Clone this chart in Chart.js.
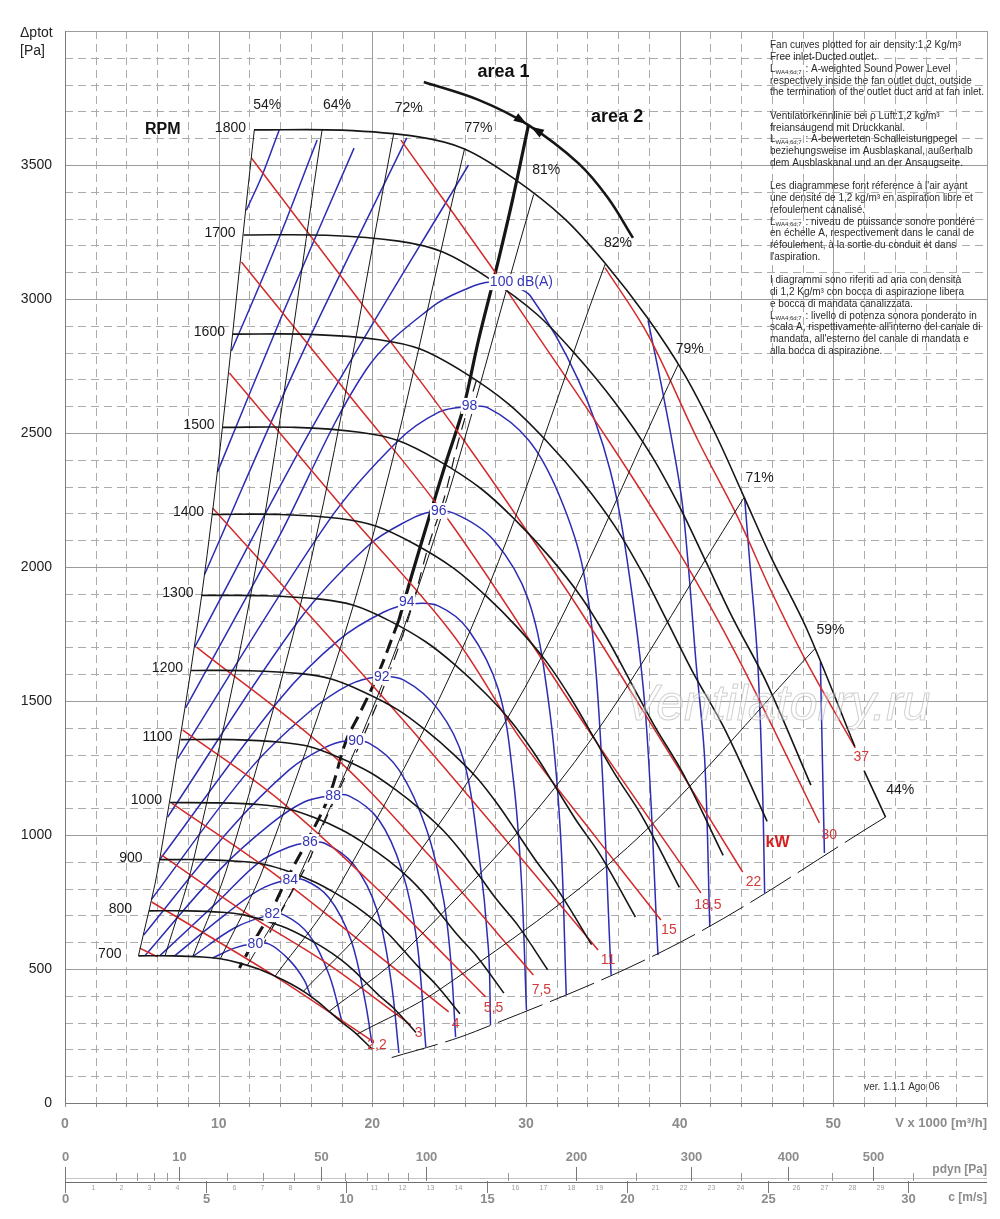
<!DOCTYPE html>
<html>
<head>
<meta charset="utf-8">
<title>Fan curves</title>
<script src="https://cdn.jsdelivr.net/npm/chart.js@4.4.0/dist/chart.umd.min.js"></script>
<style>
html, body { margin: 0; padding: 0; background: #fff; }
canvas { display: block; }
</style>
</head>
<body>
<canvas id="fan" width="1000" height="1219"></canvas>
<script>
// flow V in 1000 m3/h, total pressure in Pa
const rpmValues = [1800, 1700, 1600, 1500, 1400, 1300, 1200, 1100, 1000, 900, 800, 700]

const rpm1800 = [[12.3,3631],[18,3630],[23,3605],[26,3560],[29.2,3450],[32.5,3300],[35.2,3130],[37.9,2930],[40.3,2720],[42.3,2500],[44.2,2260],[46,2030],[48.3,1765],[51.4,1330]]
const rpm1700 = [[11.62,3239],[17.0,3238],[21.72,3216],[24.55,3176],[27.58,3077],[30.69,2944],[33.24,2792],[35.79,2614],[38.06,2426],[39.95,2230],[41.74,2016],[43.44,1811],[45.61,1574],[48.54,1186]]
const rpm1600 = [[10.93,2869],[16.0,2868],[20.44,2848],[23.11,2813],[25.96,2726],[28.89,2607],[31.29,2473],[33.69,2315],[35.82,2149],[37.6,1975],[39.29,1786],[40.89,1604],[42.93,1395],[45.69,1051]]
const rpm1500 = [[10.25,2521],[15.0,2521],[19.17,2503],[21.67,2472],[24.33,2396],[27.08,2292],[29.33,2174],[31.58,2035],[33.58,1889],[35.25,1736],[36.83,1569],[38.33,1410],[40.25,1226],[42.83,924]]
const rpm1400 = [[9.57,2196],[14.0,2196],[17.89,2181],[20.22,2153],[22.71,2087],[25.28,1996],[27.38,1893],[29.48,1772],[31.35,1645],[32.9,1512],[34.38,1367],[35.78,1228],[37.57,1068],[39.98,805]]
const rpm1300 = [[8.88,1894],[13.0,1893],[16.61,1880],[18.78,1857],[21.09,1800],[23.47,1721],[25.42,1633],[27.37,1528],[29.1,1419],[30.55,1304],[31.92,1179],[33.22,1059],[34.88,921],[37.12,694]]
const rpm1200 = [[8.2,1614],[12.0,1613],[15.33,1602],[17.33,1582],[19.47,1533],[21.67,1467],[23.47,1391],[25.27,1302],[26.87,1209],[28.2,1111],[29.47,1004],[30.67,902],[32.2,784],[34.27,591]]
const rpm1100 = [[7.52,1356],[11.0,1356],[14.06,1346],[15.89,1330],[17.84,1289],[19.86,1233],[21.51,1169],[23.16,1094],[24.63,1016],[25.85,934],[27.01,844],[28.11,758],[29.52,659],[31.41,497]]
const rpm1000 = [[6.83,1121],[10.0,1120],[12.78,1113],[14.44,1099],[16.22,1065],[18.06,1018],[19.56,966],[21.06,904],[22.39,839],[23.5,772],[24.56,697],[25.56,626],[26.83,545],[28.56,410]]
const rpm900 = [[6.15,908],[9.0,908],[11.5,901],[13.0,890],[14.6,863],[16.25,825],[17.6,783],[18.95,733],[20.15,680],[21.15,625],[22.1,565],[23.0,508],[24.15,441],[25.7,333]]
const rpm800 = [[5.47,717],[8.0,717],[10.22,712],[11.56,703],[12.98,681],[14.44,652],[15.64,618],[16.84,579],[17.91,537],[18.8,494],[19.64,446],[20.44,401],[21.47,349],[22.84,263]]
const rpm700 = [[4.78,549],[7.0,549],[8.94,545],[10.11,538],[11.36,522],[12.64,499],[13.69,473],[14.74,443],[15.67,411],[16.45,378],[17.19,342],[17.89,307],[18.78,267],[19.99,201]]
const rpmCurves = [rpm1800, rpm1700, rpm1600, rpm1500, rpm1400, rpm1300, rpm1200, rpm1100, rpm1000, rpm900, rpm800, rpm700]
const bracket44 = [[52.0,1240],[53.4,1067]]

// efficiency lines
const effLabels = ['54%','64%','72%','77%','81%','82%','79%','71%','59%','44%']
const eff54 = [[12.32,3631],[9.24,2042],[6.16,908],[4.78,549]]
const eff64 = [[16.73,3631],[12.55,2042],[8.37,908],[6.51,549]]
const eff72 = [[21.4,3620],[16.05,2036],[10.7,905],[8.32,547]]
const eff77 = [[26.0,3560],[19.5,2003],[13.0,890],[10.11,538]]
const eff81 = [[30.5,3390],[22.88,1907],[15.25,848],[11.86,513]]
const eff82 = [[35.15,3130],[26.36,1761],[17.58,783],[13.67,473]]
const eff79 = [[39.9,2755],[29.93,1550],[19.95,689],[15.52,417]]
const eff71 = [[44.2,2260],[33.15,1271],[22.1,565],[17.19,342]]
const eff59 = [[48.8,1695],[36.6,953],[24.4,424],[18.98,256]]
const eff44 = [[53.4,1067],[40.05,600],[26.7,267],[20.77,161]]
const effLines = [eff54, eff64, eff72, eff77, eff81, eff82, eff79, eff71, eff59, eff44]
const effLabelPos = [[13.16,3724],[17.70,3724],[22.37,3713],[26.91,3638],[31.32,3481],[35.99,3209],[40.66,2813],[45.20,2332],[49.81,1765],[54.35,1168]]

// absorbed power, kW
const kwLabels = ['2,2','3','4','5,5','7,5','11','15','18,5','22','30','37']
const kw2 = [[5.64,750],[13.75,470],[19.91,235]]
const kw3 = [[6.29,925],[12.0,701],[17.19,515],[22.50,291]]
const kw4 = [[6.94,1119],[13.29,869],[19.13,608],[24.97,340]]
const kw5 = [[7.65,1392],[13.94,1131],[21.08,757],[27.37,396]]
const kw7 = [[8.56,1701],[17.19,1310],[23.67,925],[30.48,478]]
const kw11 = [[9.60,2220],[16.54,1780],[23.02,1362],[29.51,925],[34.69,571]]
const kw15 = [[10.70,2724],[17.83,2239],[25.16,1754],[29.70,1354],[34.69,981],[38.78,683]]
const kw18 = [[11.48,3138],[18.48,2642],[25.10,2164],[34.50,1354],[41.38,784]]
const kw22 = [[12.13,3526],[19.13,2996],[25.94,2474],[32.94,1888],[37.29,1493],[44.10,862]]
const kw30 = [[21.86,3593],[27.89,3108],[29.05,3007],[35.34,2474],[39.88,2063],[43.77,1664],[49.09,1045]]
const kw37 = [[35.15,3116],[37.94,2866],[41.18,2474],[43.77,2187],[46.04,1900],[48.31,1640],[51.43,1325]]
const kwStub = [[4.86,578],[6.03,545]]
const kwLines = [kw2, kw3, kw4, kw5, kw7, kw11, kw15, kw18, kw22, kw30, kw37, kwStub]
const kwLabelPos = [[20.30,216],[23.02,261],[25.42,295],[27.89,354],[31.0,422],[35.34,534],[39.30,646],[41.83,739],[44.81,825],[49.74,1000],[51.82,1291]]

// sound power level, dB(A)
const dbLabels = ['80','82','84','86','88','90','92','94','96','98','100 dB(A)']
const db80 = [[9.60,541],[11.02,578],[12.19,593],[13.29,593],[14.59,534],[15.56,459],[16.0,396]]
const db82 = [[8.30,546],[11.02,653],[13.29,701],[14.27,701],[15.89,627],[17.19,478],[18.03,302]]
const db84 = [[7.13,549],[10.38,701],[12.65,795],[14.40,832],[15.56,832],[17.19,765],[18.61,608],[19.52,384],[19.97,224]]
const db86 = [[6.16,549],[10.05,757],[12.65,899],[14.59,955],[15.69,970],[16.86,970],[18.81,888],[20.30,720],[21.21,459],[21.73,187]]
const db88 = [[5.19,549],[10.05,869],[13.29,1037],[15.56,1123],[17.19,1146],[18.48,1146],[20.43,1056],[21.92,869],[22.89,608],[23.48,209]]
const db90 = [[5.12,627],[10.70,1019],[14.59,1243],[16.86,1325],[18.29,1351],[19.78,1343],[21.73,1243],[23.54,1019],[24.64,757],[25.10,534],[25.42,246]]
const db92 = [[5.64,761],[12.00,1243],[15.89,1459],[18.48,1560],[20.30,1590],[22.05,1578],[24.32,1466],[25.94,1280],[26.91,944],[27.56,571],[27.69,291]]
const db94 = [[6.16,908],[13.94,1504],[17.83,1728],[20.75,1832],[22.57,1862],[24.32,1854],[26.26,1765],[28.21,1541],[29.18,1205],[29.70,832],[30.03,347]]
const db96 = [[6.68,1067],[15.24,1802],[19.78,2082],[22.37,2175],[23.80,2205],[25.29,2201],[27.89,2101],[30.16,1877],[31.45,1504],[32.23,1019],[32.62,403]]
const db98 = [[7.33,1285],[17.19,2175],[21.73,2474],[24.32,2578],[25.94,2597],[27.56,2593],[30.16,2474],[32.10,2276],[33.72,1989],[34.69,1504],[35.54,478]]
const db100 = [[7.85,1474],[13.68,2086],[19.58,2735],[23.87,2970],[26.26,3041],[27.69,3063],[29.0,3050],[30.29,3011],[33.40,2698],[35.47,2362],[36.77,1951],[37.81,1429],[38.59,552]]
const dbUpper1 = [[11.80,3331],[12.84,3463],[13.94,3631]]
const dbUpper2 = [[10.83,2806],[13.62,3183],[16.41,3593]]
const dbUpper3 = [[9.92,2354],[14.27,2959],[18.81,3563]]
const dbUpper4 = [[9.08,1972],[15.24,2772],[22.24,3601]]
const dbUpper5 = [[8.43,1700],[16.54,2567],[26.26,3500]]
const dbRight1 = [[37.94,2920],[38.91,2649],[40.08,2276],[40.53,2026],[41.05,1653],[41.63,1280],[41.96,657]]
const dbRight2 = [[44.23,2256],[44.55,2026],[45.07,1653],[45.40,1157],[45.53,784]]
const dbRight3 = [[49.16,1645],[49.29,1280],[49.42,933]]
const dbLines = [db80, db82, db84, db86, db88, db90, db92, db94, db96, db98, db100,
  dbUpper1, dbUpper2, dbUpper3, dbUpper4, dbUpper5, dbRight1, dbRight2, dbRight3]
const dbLabelPos = [[12.39,593],[13.49,705],[14.66,832],[15.95,974],[17.45,1146],[18.94,1351],[20.62,1590],[22.24,1869],[24.32,2209],[26.33,2601],[29.70,3063]]

// area 1 / area 2 border
const areaSolid = [[30.16,3649],[29.12,3369],[28.02,3101],[26.91,2847],[25.94,2597],[24.84,2399],[23.80,2205],[22.57,1970],[21.73,1802]]
const areaDashed = [[21.73,1802],[20.30,1590],[19.13,1448],[18.29,1351],[17.19,1146],[15.69,970],[14.40,832],[13.29,701],[12.19,593],[11.35,504]]
const areaThin = [[26.78,2698],[25.62,2474],[24.64,2250],[23.67,2082],[22.37,1813],[20.62,1534],[18.94,1306],[16.86,1045],[15.89,907],[14.59,769],[13.42,646],[12.52,552]]
const areaArc = [[23.35,3810],[26.91,3743],[30.16,3649],[33.40,3507],[35.34,3377],[36.96,3228]]

// secondary scales under the flow axis
const pdynMajor = [0, 10, 50, 100, 200, 300, 400, 500]
const pdynMinor = [2, 4, 6, 8, 20, 30, 40, 60, 70, 80, 90, 150, 250, 350, 450, 550]
const cMajor = [0, 5, 10, 15, 20, 25, 30]
const cMinor = [1,2,3,4,6,7,8,9,11,12,13,14,16,17,18,19,21,22,23,24,26,27,28,29]
const pdynToFlow = 2.352   // 1000 m3/h per sqrt(Pa)
const cToFlow = 1.829      // 1000 m3/h per m/s

const noteLines = [
  'Fan curves plotted for air density:1,2 Kg/m³',
  'Free inlet-Ducted outlet.',
  'L| : A-weighted Sound Power Level',
  'respectively inside the fan outlet duct, outside',
  'the termination of the outlet duct and at fan inlet.',
  '',
  'Ventilatorkennlinie bei ρ Luft:1,2 kg/m³',
  'freiansaugend mit Druckkanal.',
  'L| : A-bewerteten Schalleistungpegel',
  'beziehungsweise im Ausblaskanal, außerhalb',
  'dem Ausblaskanal und an der Ansaugseite.',
  '',
  "Les diagrammese font réference à l'air ayant",
  'une densité de 1,2 kg/m³ en aspiration libre et',
  'refoulement canalisé.',
  'L| : niveau de puissance sonore pondéré',
  'en échelle A, respectivement dans le canal de',
  'réfoulement, à la sortie du conduit et dans',
  "l'aspiration.",
  '',
  'I diagrammi sono riferiti ad aria con densità',
  'di 1,2 Kg/m³ con bocca di aspirazione libera',
  'e bocca di mandata canalizzata.',
  'L| : livello di potenza sonora ponderato in',
  "scala A, rispettivamente all'interno del canale di",
  "mandata, all'esterno del canale di mandata e",
  'alla bocca di aspirazione.'
]

const FONT = '"Liberation Sans", Arial, Helvetica, sans-serif'
Chart.defaults.font.family = FONT

const BLACK = '#161616'
const BLUE = '#2c2cb4'
const RED = '#d42a2a'

function curve(pts, color, width, dash) {
  return {
    data: pts.map(([x, y]) => ({x: x, y: y})),
    showLine: true,
    borderColor: color,
    borderWidth: width,
    borderDash: dash || [],
    pointRadius: 0,
    pointHoverRadius: 0,
    tension: 0.35,
    fill: false
  }
}

const datasets = []
effLines.forEach(l => datasets.push(curve(l, BLACK, 1)))
rpmCurves.forEach(l => datasets.push(curve(l, BLACK, 1.6)))
datasets.push(curve(bracket44, BLACK, 1.6))
kwLines.forEach(l => datasets.push(curve(l, RED, 1.5)))
dbLines.forEach(l => datasets.push(curve(l, BLUE, 1.5)))
datasets.push(curve(areaThin, BLACK, 1.2, [12, 8]))
datasets.push(curve(areaSolid, BLACK, 3.2))
datasets.push(curve(areaDashed, BLACK, 3, [14, 7]))
datasets.push(curve(areaArc, BLACK, 2.6))
// bottom 44% line drawn broken like the original
datasets[9].borderDash = [48, 8]

// dashed paper grid + axis lines
const paperGrid = {
  id: 'paperGrid',
  beforeDatasetsDraw(chart) {
    const {ctx, chartArea: a, scales: {x, y}} = chart
    ctx.save()
    ctx.lineWidth = 1
    for (let v = 0; v <= 60; v += 2) {
      const px = Math.round(x.getPixelForValue(v)) + 0.5
      const major = v % 10 === 0
      ctx.strokeStyle = major ? '#9c9c9c' : '#ababab'
      ctx.setLineDash(major ? [] : [8, 5])
      ctx.beginPath(); ctx.moveTo(px, a.top); ctx.lineTo(px, a.bottom); ctx.stroke()
      ctx.setLineDash([])
      ctx.strokeStyle = '#8a8a8a'
      ctx.beginPath(); ctx.moveTo(px, a.bottom); ctx.lineTo(px, a.bottom + 4); ctx.stroke()
    }
    for (let p = 0; p <= 4000; p += 100) {
      const py = Math.round(y.getPixelForValue(p)) + 0.5
      const major = p % 500 === 0
      ctx.strokeStyle = major ? '#9c9c9c' : '#ababab'
      ctx.setLineDash(major ? [] : [8, 5])
      ctx.beginPath(); ctx.moveTo(a.left, py); ctx.lineTo(a.right, py); ctx.stroke()
    }
    ctx.setLineDash([])
    ctx.strokeStyle = '#7a7a7a'
    ctx.beginPath()
    ctx.moveTo(a.left + 0.5, a.top); ctx.lineTo(a.left + 0.5, a.bottom + 0.5); ctx.lineTo(a.right, a.bottom + 0.5)
    ctx.stroke()
    ctx.restore()
  }
}

function label(ctx, s, x, y, font, color, align, bg) {
  ctx.font = font
  ctx.textAlign = align || 'center'
  ctx.textBaseline = 'middle'
  if (bg) {
    const w = ctx.measureText(s).width
    const x0 = ctx.textAlign === 'center' ? x - w / 2 : (ctx.textAlign === 'right' ? x - w : x)
    ctx.fillStyle = '#fff'
    ctx.fillRect(x0 - 1, y - 8, w + 2, 16)
  }
  ctx.fillStyle = color
  ctx.fillText(s, x, y)
}

const annotations = {
  id: 'annotations',
  afterDatasetsDraw(chart) {
    const {ctx, chartArea: a, scales: {x, y}} = chart
    const P = pt => [x.getPixelForValue(pt[0]), y.getPixelForValue(pt[1])]
    ctx.save()

    // watermark
    const wm = P([46.37, 1481])
    ctx.font = 'italic 50px ' + FONT
    ctx.textAlign = 'center'; ctx.textBaseline = 'middle'
    ctx.fillStyle = 'rgba(255,255,255,0.35)'
    ctx.fillText('Ventilatorry.ru', wm[0], wm[1])
    ctx.strokeStyle = 'rgba(170,170,170,0.55)'
    ctx.lineWidth = 1
    ctx.strokeText('Ventilatorry.ru', wm[0], wm[1])

    // rpm
    rpmCurves.forEach((c, i) => {
      const [px, py] = P(c[0])
      const s = String(rpmValues[i])
      label(ctx, s, px - (s.length > 3 ? 8 : 17), py - 2, '14px ' + FONT, '#1a1a1a', 'right')
    })
    const rp = P([6.36, 3631])
    label(ctx, 'RPM', rp[0], rp[1], 'bold 16px ' + FONT, '#111')

    effLabelPos.forEach((pt, i) => {
      const [px, py] = P(pt)
      label(ctx, effLabels[i], px, py, '14px ' + FONT, '#1a1a1a')
    })
    dbLabelPos.forEach((pt, i) => {
      const [px, py] = P(pt)
      label(ctx, dbLabels[i], px, py, '14px ' + FONT, '#3535b8', 'center', true)
    })
    kwLabelPos.forEach((pt, i) => {
      const [px, py] = P(pt)
      label(ctx, kwLabels[i], px, py, '14px ' + FONT, '#d33a3a')
    })
    const kw = P([46.37, 970])
    label(ctx, 'kW', kw[0], kw[1], 'bold 16px ' + FONT, '#d42020')

    const a1 = P([28.53, 3847]), a2 = P([35.93, 3679])
    label(ctx, 'area 1', a1[0], a1[1], 'bold 18px ' + FONT, '#111')
    label(ctx, 'area 2', a2[0], a2[1], 'bold 18px ' + FONT, '#111')

    // arrow heads where the two areas meet
    const [ax, ay] = P(areaArc[2])
    const [bx, by] = P(areaArc[1])
    const [cx, cy] = P(areaArc[3])
    const ang = Math.atan2(cy - by, cx - bx)
    const head = (tx, ty, t) => {
      ctx.beginPath()
      ctx.moveTo(tx, ty)
      ctx.lineTo(tx - 13 * Math.cos(t) + 4.5 * Math.sin(t), ty - 13 * Math.sin(t) - 4.5 * Math.cos(t))
      ctx.lineTo(tx - 13 * Math.cos(t) - 4.5 * Math.sin(t), ty - 13 * Math.sin(t) + 4.5 * Math.cos(t))
      ctx.closePath(); ctx.fill()
    }
    ctx.fillStyle = '#111'
    head(ax - 2 * Math.cos(ang), ay - 2 * Math.sin(ang), ang)
    head(ax + 3 * Math.cos(ang), ay + 3 * Math.sin(ang), ang + Math.PI)

    const ver = P([54.47, 60])
    label(ctx, 'ver. 1.1.1 Ago 06', ver[0], ver[1], '10px ' + FONT, '#333')

    // notes block
    ctx.textAlign = 'left'; ctx.textBaseline = 'middle'; ctx.fillStyle = '#2a2a2a'
    const nx = a.left + 705
    noteLines.forEach((s, i) => {
      const ny = 45.5 + i * 11.75
      if (s.startsWith('L|')) {
        ctx.font = '10px ' + FONT
        ctx.fillText('L', nx, ny)
        let w = ctx.measureText('L').width
        ctx.font = '6px ' + FONT
        ctx.fillText('WA4;6d;7', nx + w, ny + 3)
        w += ctx.measureText('WA4;6d;7').width
        ctx.font = '10px ' + FONT
        ctx.fillText(s.slice(2), nx + w + 1, ny)
      } else if (s) {
        ctx.font = '10px ' + FONT
        ctx.fillText(s, nx, ny)
      }
    })
    ctx.restore()
  },
  afterDraw(chart) {
    const {ctx, chartArea: a, scales: {x}} = chart
    ctx.save()
    label(ctx, 'Δptot', 20, 33, '14px ' + FONT, '#222', 'left')
    label(ctx, '[Pa]', 20, 51, '14px ' + FONT, '#222', 'left')
    label(ctx, 'V x 1000 [m³/h]', a.right, a.bottom + 20, 'bold 13px ' + FONT, '#8c8c8c', 'right')

    const base = a.bottom + 78
    ctx.strokeStyle = '#c4c4c4'; ctx.lineWidth = 1
    ctx.beginPath(); ctx.moveTo(a.left, base - 2.5); ctx.lineTo(a.right, base - 2.5); ctx.stroke()
    ctx.strokeStyle = '#6e6e6e'
    ctx.beginPath(); ctx.moveTo(a.left, base + 1.5); ctx.lineTo(a.right, base + 1.5); ctx.stroke()

    ctx.strokeStyle = '#777'
    pdynMajor.forEach(p => {
      const px = Math.round(x.getPixelForValue(Math.sqrt(p) * pdynToFlow)) + 0.5
      ctx.beginPath(); ctx.moveTo(px, base - 14); ctx.lineTo(px, base); ctx.stroke()
      label(ctx, String(p), px, a.bottom + 54, 'bold 13px ' + FONT, '#8c8c8c')
    })
    pdynMinor.forEach(p => {
      const px = Math.round(x.getPixelForValue(Math.sqrt(p) * pdynToFlow)) + 0.5
      ctx.strokeStyle = '#999'
      ctx.beginPath(); ctx.moveTo(px, base - 8); ctx.lineTo(px, base); ctx.stroke()
    })
    cMajor.forEach(c => {
      const px = Math.round(x.getPixelForValue(c * cToFlow)) + 0.5
      ctx.strokeStyle = '#777'
      ctx.beginPath(); ctx.moveTo(px, base); ctx.lineTo(px, base + 12); ctx.stroke()
      label(ctx, String(c), px, a.bottom + 96, 'bold 13px ' + FONT, '#8c8c8c')
    })
    cMinor.forEach(c => {
      const px = Math.round(x.getPixelForValue(c * cToFlow)) + 0.5
      label(ctx, String(c), px, base + 7, '7px ' + FONT, '#a0a0a0')
    })
    label(ctx, 'pdyn [Pa]', a.right, a.bottom + 67, 'bold 12px ' + FONT, '#8c8c8c', 'right')
    label(ctx, 'c [m/s]', a.right, a.bottom + 95, 'bold 12px ' + FONT, '#8c8c8c', 'right')
    ctx.restore()
  }
}

new Chart(document.getElementById('fan'), {
  type: 'scatter',
  data: { datasets: datasets },
  options: {
    responsive: false,
    animation: false,
    events: [],
    layout: { padding: { left: 0, right: 10, top: 31, bottom: 0 } },
    plugins: { legend: { display: false }, tooltip: { enabled: false } },
    scales: {
      x: {
        type: 'linear', min: 0, max: 60,
        grid: { display: false, drawTicks: false },
        border: { display: false },
        ticks: {
          stepSize: 10, padding: 13, maxRotation: 0,
          color: '#8c8c8c', font: { size: 14, weight: 'bold' },
          callback: v => (v <= 50 ? v : '')
        },
        afterFit: s => { s.height = 116 }
      },
      y: {
        type: 'linear', min: 0, max: 4000,
        grid: { display: false, drawTicks: false },
        border: { display: false },
        ticks: {
          stepSize: 500, padding: 13, color: '#222', font: { size: 14 },
          callback: v => (v < 4000 ? v : '')
        },
        afterFit: s => { s.width = 65 }
      }
    }
  },
  plugins: [paperGrid, annotations]
})
</script>
</body>
</html>
